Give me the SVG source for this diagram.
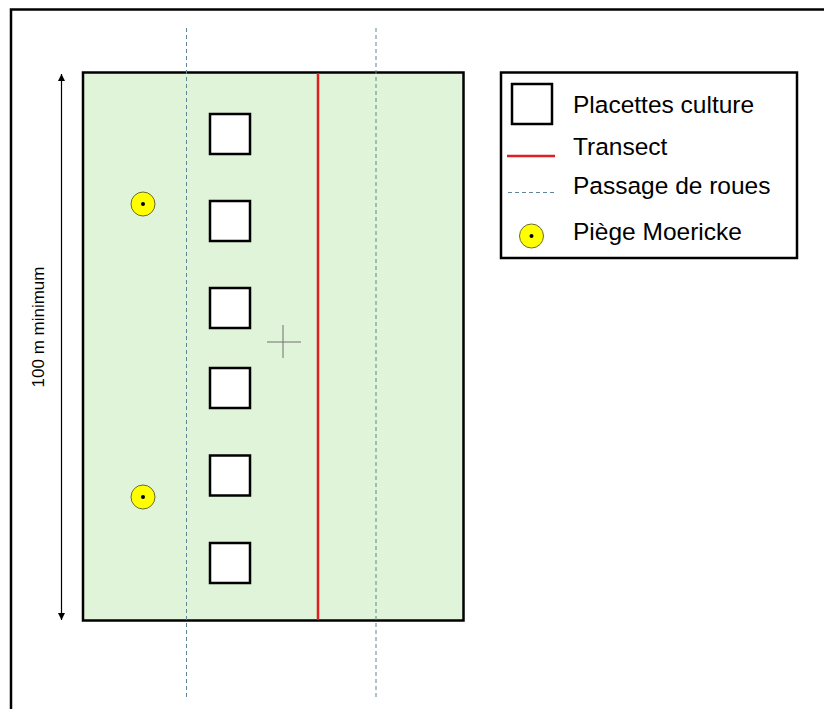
<svg xmlns="http://www.w3.org/2000/svg" width="824" height="709" viewBox="0 0 824 709">
<style>
.sq{fill:#fff;stroke:#000;stroke-width:2.5}
.wheel{stroke:#5f8596;stroke-width:1;stroke-dasharray:4 3;fill:none}
.trap{fill:#ffff00;stroke:#6b6b2a;stroke-width:1}
.dot{fill:#000}
.lbl{font-family:"Liberation Sans",Arial,sans-serif;font-size:24.5px;fill:#000}
</style>
<defs>
<marker id="ah" viewBox="0 0 10 10" refX="10" refY="5" markerWidth="7" markerHeight="7" markerUnits="userSpaceOnUse" orient="auto-start-reverse">
<path d="M0,0 L10,5 L0,10 Z" fill="#000"/>
</marker>
</defs>
<rect x="0" y="0" width="824" height="709" fill="#fff"/>
<rect id="frame" x="11" y="9.5" width="830" height="720" fill="none" stroke="#000" stroke-width="2.5"/>
<g id="field">
<rect x="83" y="72.5" width="380.5" height="548" fill="#dff4d9" stroke="#000" stroke-width="2.5"/>
</g>
<g id="connectors">
<line id="wheel1" class="wheel" x1="186.5" y1="28" x2="186.5" y2="698"/>
<line id="wheel2" class="wheel" x1="376" y1="28" x2="376" y2="698"/>
<line id="transect" x1="318" y1="73" x2="318" y2="620" stroke="#e02020" stroke-width="2.5"/>
<line id="dim" x1="61.5" y1="74" x2="61.5" y2="620" stroke="#000" stroke-width="1.2" marker-start="url(#ah)" marker-end="url(#ah)"/>
</g>
<g id="center-cross" stroke="#707070" stroke-width="1">
<line x1="267" y1="342" x2="301" y2="342"/>
<line x1="283" y1="325" x2="283" y2="358"/>
</g>
<g id="plot1"><rect class="sq" x="210" y="114" width="40" height="40"/></g>
<g id="plot2"><rect class="sq" x="210" y="201" width="40" height="40"/></g>
<g id="plot3"><rect class="sq" x="210" y="288" width="40" height="40"/></g>
<g id="plot4"><rect class="sq" x="210" y="368" width="40" height="40"/></g>
<g id="plot5"><rect class="sq" x="210" y="455.5" width="40" height="40"/></g>
<g id="plot6"><rect class="sq" x="210" y="543" width="40" height="40"/></g>
<g id="trap1"><circle class="trap" cx="143" cy="204" r="12"/><circle class="dot" cx="143" cy="204" r="2"/></g>
<g id="trap2"><circle class="trap" cx="143" cy="497" r="12"/><circle class="dot" cx="143" cy="497" r="2"/></g>
<g id="dim-label">
<text class="lbl" style="font-size:17px" transform="translate(43.5,327) rotate(-90)" text-anchor="middle">100 m minimum</text>
</g>
<g id="legend">
<rect x="501" y="72.5" width="296" height="185.5" fill="#fff" stroke="#000" stroke-width="2.5"/>
<rect class="sq" x="512" y="84" width="40" height="40"/>
<text class="lbl" x="573" y="113">Placettes culture</text>
<line x1="507" y1="156" x2="555" y2="156" stroke="#e02020" stroke-width="2.5"/>
<text class="lbl" x="573" y="155">Transect</text>
<line class="wheel" x1="508" y1="192.5" x2="554" y2="192.5" stroke-dasharray="2 1.5"/>
<text class="lbl" x="573" y="194">Passage de roues</text>
<circle class="trap" cx="531.5" cy="236" r="12"/><circle class="dot" cx="531.5" cy="236" r="2"/>
<text class="lbl" x="573" y="240">Piège Moericke</text>
</g>
</svg>
